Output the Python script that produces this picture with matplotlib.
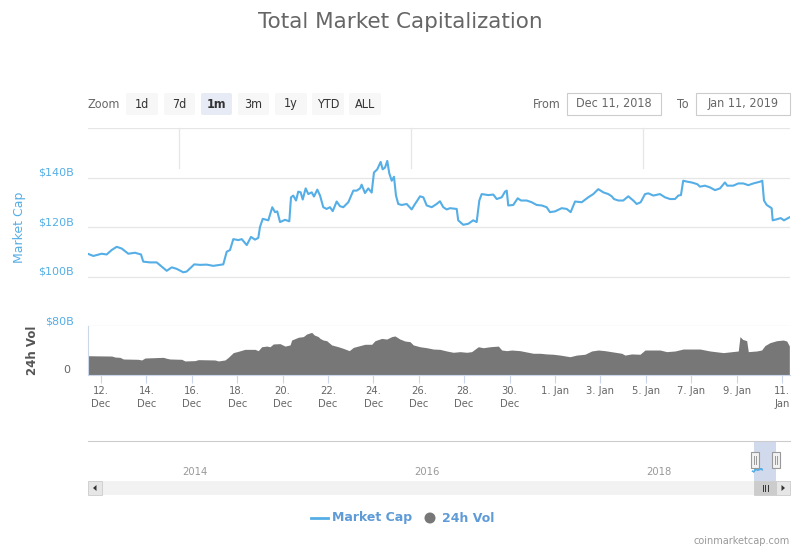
import numpy as np
import pandas as pd
import matplotlib
matplotlib.use("Agg")
import matplotlib.pyplot as plt
import matplotlib.dates as mdates
from matplotlib.patches import Rectangle, FancyBboxPatch, Circle, Polygon
from matplotlib.transforms import ScaledTranslation

# ---------------- data ----------------
START = pd.Timestamp("2018-12-11")

cap_hours = [10.6, 15.9, 24.7, 30.0, 35.3, 40.6, 45.9, 52.9, 59.9, 66.3, 68.7, 75.8, 82.9, 88.2, 93.5,
             98.8, 104.0, 111.0, 114.6, 122.6, 128.7, 135.8, 142.7, 153.3, 156.9, 160.4, 163.9, 169.2,
             172.8, 178.1, 182.6, 186.8, 190.3, 192.1, 195.0, 200.9, 205.1, 208.0, 210.4, 213.3, 218.6,
             223.1, 224.9, 227.3, 230.2, 232.6, 235.1, 237.3, 240.4, 243.2, 246.8, 249.2, 252.7, 255.6,
             259.0, 262.6, 266.1, 269.0, 273.2, 276.7, 280.2, 285.5, 290.8, 294.4, 297.9, 299.6, 303.1,
             306.6, 310.2, 312.6, 316.1, 319.7, 321.8, 324.3, 326.7, 328.8, 331.4, 333.8, 335.9, 338.3,
             341.9, 347.2, 352.5, 356.0, 357.8, 361.3, 364.8, 368.4, 373.7, 378.9, 382.4, 385.9, 389.5,
             393.0, 400.1, 401.7, 407.0, 412.3, 417.6, 421.2, 424.0, 426.5, 433.5, 438.8, 442.4, 447.7,
             451.2, 453.0, 454.6, 459.9, 464.6, 468.1, 474.1, 479.4, 484.7, 490.0, 495.2, 498.7, 504.0,
             511.1, 516.4, 520.6, 525.2, 532.3, 539.2, 544.5, 549.8, 555.1, 560.4, 564.0, 566.4, 571.0,
             576.2, 581.5, 586.8, 590.4, 594.6, 599.2, 602.7, 608.0, 615.0, 620.3, 625.6, 630.9, 634.4,
             637.2, 639.6, 643.9, 648.5, 654.5, 657.3, 662.6, 667.9, 673.2, 678.5, 683.7, 686.2, 692.5,
             697.8, 703.1, 708.4, 713.7, 720.8, 723.2, 725.0, 727.9, 733.1, 734.2, 738.4, 742.7, 746.1,
             750.6, 752.4]
cap_values = [109.1, 108.3, 109.2, 108.9, 110.7, 112.0, 111.3, 109.2, 109.6, 108.9, 106.0, 105.7, 105.7,
              104.0, 102.3, 103.7, 103.1, 101.7, 102.0, 104.9, 104.7, 104.8, 104.3, 104.9, 110.0, 110.7,
              115.1, 114.7, 115.1, 112.7, 116.0, 114.9, 115.6, 120.0, 123.3, 122.7, 128.0, 126.0, 126.3,
              122.0, 122.9, 122.3, 132.0, 132.7, 130.7, 134.3, 134.0, 131.1, 135.6, 133.3, 134.0, 132.3,
              135.1, 132.7, 128.0, 127.3, 128.0, 126.4, 130.3, 128.4, 128.0, 130.0, 134.7, 134.7, 135.6,
              137.1, 133.7, 135.6, 133.9, 142.0, 143.3, 146.3, 143.3, 144.0, 146.7, 141.7, 138.7, 140.3,
              132.7, 129.3, 128.9, 129.3, 127.1, 129.3, 130.3, 132.4, 132.0, 128.7, 128.0, 129.3, 130.4,
              128.0, 127.1, 127.6, 127.3, 122.7, 120.9, 121.3, 122.7, 122.0, 130.7, 133.3, 132.9, 133.1,
              131.3, 132.0, 134.3, 134.7, 128.7, 128.9, 131.6, 130.7, 130.7, 130.0, 128.9, 128.7, 128.0,
              126.0, 126.3, 127.6, 127.3, 126.0, 130.3, 130.0, 132.0, 133.3, 135.3, 134.0, 133.3, 132.4,
              131.3, 130.7, 130.7, 132.4, 130.7, 129.3, 130.0, 133.3, 133.6, 132.7, 133.3, 132.0, 131.3,
              131.3, 132.7, 132.9, 138.7, 138.3, 138.0, 137.3, 136.3, 136.7, 136.0, 134.9, 135.6, 138.0,
              136.7, 136.7, 137.6, 137.6, 136.9, 137.6, 138.3, 138.7, 130.7, 128.9, 127.6, 122.7, 123.1,
              123.6, 122.7, 123.6, 124.0]

vol_hours = [10.6, 35.3, 38.8, 44.1, 47.6, 63.4, 67.0, 70.5, 89.9, 93.5, 97.0, 109.3, 112.8, 123.4, 126.9,
             144.5, 148.0, 155.1, 158.6, 163.9, 169.2, 176.2, 186.8, 190.3, 193.9, 199.2, 202.7, 206.2,
             213.3, 218.6, 223.9, 225.6, 232.6, 237.9, 241.5, 246.8, 249.5, 253.7, 255.6, 259.0, 262.6,
             267.9, 274.9, 280.2, 286.5, 290.8, 297.9, 303.1, 310.2, 313.7, 320.8, 326.1, 331.4, 334.8,
             340.1, 345.4, 350.7, 354.2, 361.3, 368.4, 375.3, 382.4, 389.5, 396.5, 403.6, 410.7, 415.9,
             422.9, 428.2, 435.3, 444.1, 447.7, 453.0, 458.2, 467.0, 475.8, 481.1, 488.2, 495.2, 502.2,
             509.3, 519.9, 527.0, 535.7, 542.8, 549.8, 556.8, 565.6, 574.5, 578.0, 585.1, 593.9, 599.2,
             615.0, 622.1, 630.9, 639.6, 657.3, 667.9, 682.0, 697.8, 699.6, 702.5, 706.7, 708.4, 717.2,
             722.5, 726.0, 731.3, 738.4, 745.4, 749.0, 751.8]
vol_values = [11.8, 11.6, 11.0, 10.8, 9.8, 9.6, 9.2, 10.4, 10.8, 10.2, 9.8, 9.6, 8.6, 8.8, 9.4, 9.2, 8.6,
              9.2, 10.8, 13.7, 14.5, 15.7, 15.7, 14.9, 17.3, 17.7, 17.3, 19.0, 19.2, 17.7, 18.4, 21.4,
              23.1, 23.5, 25.1, 26.1, 24.5, 23.5, 22.4, 21.4, 21.0, 18.4, 17.3, 16.3, 14.9, 16.9, 18.0,
              18.8, 18.8, 21.0, 22.4, 22.0, 23.5, 23.9, 22.0, 20.8, 20.4, 18.4, 17.3, 16.7, 15.9, 15.7,
              14.7, 13.9, 14.3, 13.9, 14.3, 17.3, 16.7, 17.3, 17.7, 15.3, 14.9, 15.3, 14.9, 13.9, 13.3,
              13.3, 12.9, 12.7, 12.2, 11.2, 12.2, 12.7, 14.7, 15.3, 14.9, 14.1, 13.3, 12.2, 12.9, 12.7,
              15.3, 15.3, 14.3, 14.7, 15.9, 15.9, 14.7, 13.7, 14.7, 23.5, 21.8, 21.0, 14.3, 14.7, 15.3,
              18.0, 19.8, 21.0, 21.4, 20.8, 17.8]

tick_dates = ["2018-12-12", "2018-12-14", "2018-12-16", "2018-12-18", "2018-12-20", "2018-12-22",
              "2018-12-24", "2018-12-26", "2018-12-28", "2018-12-30", "2019-01-01", "2019-01-03",
              "2019-01-05", "2019-01-07", "2019-01-09", "2019-01-11"]
tick_labels = ["12.\nDec", "14.\nDec", "16.\nDec", "18.\nDec", "20.\nDec", "22.\nDec", "24.\nDec",
               "26.\nDec", "28.\nDec", "30.\nDec", "1. Jan", "3. Jan", "5. Jan", "7. Jan", "9. Jan",
               "11.\nJan"]
cap_ticks = [80, 100, 120, 140]
cap_tick_labels = ["$80B", "$100B", "$120B", "$140B"]
zoom_buttons = ["1d", "7d", "1m", "3m", "1y", "YTD", "ALL"]
selected_button = "1m"
nav_years = [2014, 2016, 2018]
from_text, to_text = "Dec 11, 2018", "Jan 11, 2019"

# ---------------- style ----------------
BLUE = "#55aee6"
VOLC = "#777777"
GRID = "#e6e6e6"
AXC = "#ccd6eb"
W, H = 800, 550
COND = dict(fontstretch="condensed")

fig = plt.figure(figsize=(8, 5.5), dpi=100)
fig.patch.set_facecolor("white")


def rect(x0, y0, x1, y1):
    return [x0 / W, 1 - y1 / H, (x1 - x0) / W, (y1 - y0) / H]


def up(px):
    return ScaledTranslation(0, px / 100, fig.dpi_scale_trans)


cap_t = START + pd.to_timedelta(cap_hours, unit="h")
vol_t = START + pd.to_timedelta(vol_hours, unit="h")
t0 = START + pd.Timedelta(hours=10.26)
t1 = START + pd.Timedelta(hours=752.5)

# ---------------- main panel ----------------
ax = fig.add_axes(rect(88, 128, 790, 326))
ax.patch.set_alpha(0)
ax.plot(cap_t, cap_values, color=BLUE, lw=1.5, solid_joinstyle="round", zorder=3)
ax.set_xlim(t0, t1)
ax.set_ylim(80, 160)
for v in [80, 100, 120, 140, 160]:
    ax.axhline(v, color=GRID, lw=0.9, zorder=1)
for s in ax.spines.values():
    s.set_visible(False)
ax.set_xticks([])
ax.set_yticks(cap_ticks)
ax.set_yticklabels(cap_tick_labels, fontsize=8, color=BLUE)
ax.tick_params(axis="y", length=0, pad=10.5)
for lab in ax.get_yticklabels():
    lab.set_transform(lab.get_transform() + up(6))

# ---------------- volume panel ----------------
vx = fig.add_axes(rect(88, 326, 790, 375))
vx.patch.set_alpha(0)
vx.fill_between(vol_t, vol_values, 0, color=VOLC, lw=0, zorder=2)
vx.set_xlim(t0, t1)
vx.set_ylim(0, 30)
vx.spines["top"].set_visible(False)
vx.spines["right"].set_visible(False)
vx.spines["left"].set_color(AXC)
vx.spines["bottom"].set_color(AXC)
vx.set_yticks([0])
vx.set_yticklabels(["0"], fontsize=8, color="#666666")
vx.tick_params(axis="y", length=0, pad=12.5)
for lab in vx.get_yticklabels():
    lab.set_transform(lab.get_transform() + up(6))
vx.set_xticks([pd.Timestamp(d) for d in tick_dates])
vx.set_xticklabels(tick_labels, fontsize=8, color="#666666", linespacing=1.35, **COND)
vx.tick_params(axis="x", length=6, width=0.8, color=AXC, pad=2)

# ---------------- navigator ----------------
nav = fig.add_axes(rect(88, 441, 790, 481))
nav.patch.set_alpha(0)
nav_left = pd.Timestamp("2014-01-01") - pd.Timedelta(days=286.4)
nav_right = pd.Timestamp("2018-01-01") + pd.Timedelta(days=462.7)
nav.set_xlim(nav_left, nav_right)
nav.set_ylim(0, 450)
for k in ["left", "right", "bottom"]:
    nav.spines[k].set_visible(False)
nav.spines["top"].set_color("#cccccc")
nav.set_xticks([])
nav.set_yticks([])
sel = Rectangle((754 / W, 1 - 481 / H), 22 / W, 40 / H, transform=fig.transFigure,
                facecolor="#ccd6eb", edgecolor="none", alpha=0.9, zorder=1)
nav.add_patch(sel)
nav.plot(cap_t, cap_values, color=BLUE, lw=1.0, zorder=3)
for yr in nav_years:
    nav.annotate(str(yr), xy=(pd.Timestamp(f"{yr}-01-01"), 0), xycoords=("data", "axes fraction"),
                 xytext=(2.2, 6.5), textcoords="offset points", ha="left", va="center",
                 fontsize=8, color="#999999", **COND)

# ---------------- overlay (UI) ----------------
ov = fig.add_axes([0, 0, 1, 1], zorder=10)
ov.set_xlim(0, W)
ov.set_ylim(H, 0)
ov.axis("off")
ov.patch.set_alpha(0)

# year grid stubs at top
for yr in nav_years:
    xd = nav.transData.transform((mdates.date2num(pd.Timestamp(f"{yr}-01-01")), 0))[0]
    ov.plot([xd, xd], [128, 168], color=GRID, lw=0.9)

ov.text(400, 22, "Total Market Capitalization", ha="center", va="center", fontsize=15.5,
        color="#666666")

# zoom buttons
ov.text(88, 104, "Zoom", ha="left", va="center", fontsize=9, color="#666666", **COND)
bx = [(126, 158), (164, 195), (201, 232), (238, 269), (275, 307), (312, 344), (349, 381)]
for lab, (x0, x1) in zip(zoom_buttons, bx):
    selb = lab == selected_button
    ov.add_patch(FancyBboxPatch((x0, 93), x1 - x0, 22, boxstyle="round,pad=0,rounding_size=2",
                                facecolor="#e6ebf5" if selb else "#f7f7f7", edgecolor="none"))
    ov.text((x0 + x1) / 2, 104, lab, ha="center", va="center", fontsize=9, color="#333333",
            fontweight="bold" if selb else "normal", **COND)

ov.text(561, 104, "From", ha="right", va="center", fontsize=9, color="#666666", **COND)
ov.add_patch(Rectangle((567, 93), 94, 22, facecolor="white", edgecolor="#cccccc", lw=0.8))
ov.text(614, 104, from_text, ha="center", va="center", fontsize=9, color="#666666", **COND)
ov.text(689, 104, "To", ha="right", va="center", fontsize=9, color="#666666", **COND)
ov.add_patch(Rectangle((696, 93), 94, 22, facecolor="white", edgecolor="#cccccc", lw=0.8))
ov.text(743, 104, to_text, ha="center", va="center", fontsize=9, color="#666666", **COND)

# axis titles
ov.text(20, 227, "Market Cap", rotation=90, ha="center", va="center", fontsize=9, color=BLUE)
ov.text(33, 350, "24h Vol", rotation=90, ha="center", va="center", fontsize=8.5,
        color="#555555", fontweight="bold")

# navigator handles
for hx in (751, 772):
    ov.add_patch(Rectangle((hx, 452), 8, 16, facecolor="#f2f2f2", edgecolor="#999999", lw=0.8))
    ov.plot([hx + 3, hx + 3], [456, 464], color="#999999", lw=0.7)
    ov.plot([hx + 5, hx + 5], [456, 464], color="#999999", lw=0.7)

# scrollbar
ov.add_patch(Rectangle((88, 481), 702, 14, facecolor="#f2f2f2", edgecolor="none"))
ov.add_patch(Rectangle((88, 481), 14, 14, facecolor="#e6e6e6", edgecolor="#cccccc", lw=0.6))
ov.add_patch(Rectangle((776, 481), 14, 14, facecolor="#e6e6e6", edgecolor="#cccccc", lw=0.6))
ov.add_patch(Polygon([[93, 488], [96.5, 485], [96.5, 491]], closed=True, facecolor="#333333"))
ov.add_patch(Polygon([[785, 488], [781.5, 485], [781.5, 491]], closed=True, facecolor="#333333"))
ov.add_patch(Rectangle((754, 481), 22, 14, facecolor="#cccccc", edgecolor="#cccccc", lw=0.6))
for dx in (-2.5, 0, 2.5):
    ov.plot([765 + dx, 765 + dx], [485, 491], color="#333333", lw=0.7)

# legend
ov.plot([311, 328], [518, 518], color=BLUE, lw=2)
ov.text(332, 518, "Market Cap", ha="left", va="center", fontsize=9, color="#5f9bd6",
        fontweight="bold")
ov.add_patch(Circle((430, 518), 5.5, facecolor=VOLC, edgecolor="none"))
ov.text(442, 518, "24h Vol", ha="left", va="center", fontsize=9, color="#5f9bd6",
        fontweight="bold")

ov.text(790, 541, "coinmarketcap.com", ha="right", va="center", fontsize=7, color="#999999")

fig.savefig("out.png", dpi=100, facecolor="white")
